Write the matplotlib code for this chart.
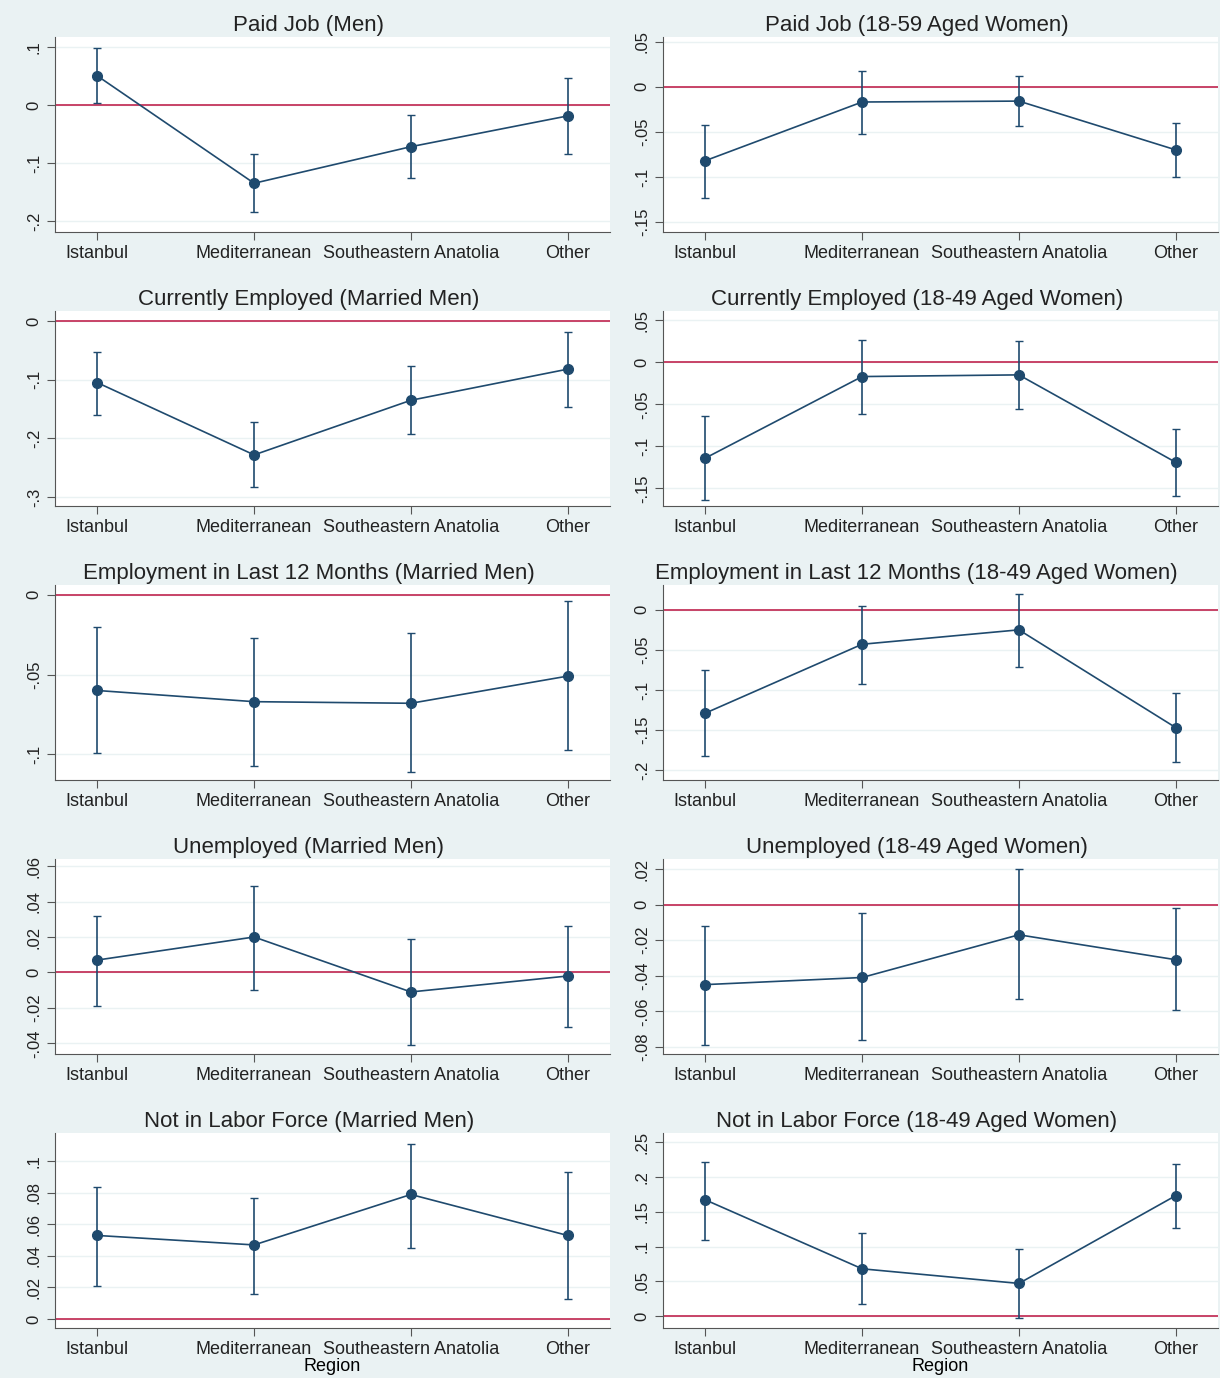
import matplotlib
matplotlib.use("Agg")
import matplotlib.pyplot as plt
import numpy as np

plt.rcParams['font.family'] = ['Liberation Sans', 'DejaVu Sans']

regions = ["Istanbul", "Mediterranean", "Southeastern Anatolia", "Other"]
titles = ["Paid Job (Men)", "Paid Job (18-59 Aged Women)",
          "Currently Employed (Married Men)", "Currently Employed (18-49 Aged Women)",
          "Employment in Last 12 Months (Married Men)", "Employment in Last 12 Months (18-49 Aged Women)",
          "Unemployed (Married Men)", "Unemployed (18-49 Aged Women)",
          "Not in Labor Force (Married Men)", "Not in Labor Force (18-49 Aged Women)"]
est = [[0.050, -0.135, -0.072, -0.019], [-0.082, -0.017, -0.016, -0.070],
       [-0.105, -0.228, -0.135, -0.082], [-0.114, -0.017, -0.015, -0.119],
       [-0.060, -0.067, -0.068, -0.051], [-0.129, -0.043, -0.025, -0.147],
       [0.007, 0.020, -0.011, -0.002], [-0.045, -0.041, -0.017, -0.031],
       [0.053, 0.047, 0.079, 0.053], [0.167, 0.068, 0.047, 0.173]]
lo = [[0.003, -0.185, -0.126, -0.085], [-0.123, -0.052, -0.044, -0.100],
      [-0.160, -0.283, -0.193, -0.147], [-0.164, -0.061, -0.056, -0.159],
      [-0.099, -0.107, -0.111, -0.097], [-0.183, -0.092, -0.072, -0.190],
      [-0.019, -0.010, -0.041, -0.031], [-0.079, -0.076, -0.053, -0.059],
      [0.021, 0.016, 0.045, 0.013], [0.110, 0.017, -0.003, 0.127]]
hi = [[0.098, -0.085, -0.018, 0.047], [-0.042, 0.017, 0.012, -0.040],
      [-0.052, -0.172, -0.077, -0.018], [-0.064, 0.027, 0.025, -0.079],
      [-0.020, -0.027, -0.024, -0.004], [-0.075, 0.005, 0.020, -0.104],
      [0.032, 0.049, 0.019, 0.026], [-0.012, -0.005, 0.020, -0.002],
      [0.084, 0.077, 0.111, 0.093], [0.222, 0.120, 0.097, 0.219]]
yticks = [[-0.2, -0.1, 0, 0.1], [-0.15, -0.1, -0.05, 0, 0.05],
          [-0.3, -0.2, -0.1, 0], [-0.15, -0.1, -0.05, 0, 0.05],
          [-0.1, -0.05, 0], [-0.2, -0.15, -0.1, -0.05, 0],
          [-0.04, -0.02, 0, 0.02, 0.04, 0.06], [-0.08, -0.06, -0.04, -0.02, 0, 0.02],
          [0, 0.02, 0.04, 0.06, 0.08, 0.1], [0, 0.05, 0.1, 0.15, 0.2, 0.25]]
ylims = [(-0.219, 0.117), (-0.161, 0.055), (-0.315, 0.017), (-0.171, 0.061),
         (-0.116, 0.006), (-0.2125, 0.031), (-0.046, 0.064), (-0.084, 0.0256),
         (-0.0057, 0.118), (-0.017, 0.263)]

def fmt(v):
    if abs(v) < 1e-12:
        return "0"
    s = ("%g" % v)
    return s.replace("0.", ".")

W, H = 1220, 1378
fig = plt.figure(figsize=(W/100, H/100), dpi=100, facecolor="#EAF2F3")
navy = "#1f4a6e"; red = "#c0254f"
x = np.arange(4)
for i in range(10):
    r, c = divmod(i, 2)
    left = 55 if c == 0 else 663
    top = 37 + r*274
    ax = fig.add_axes([left/W, 1-(top+195)/H, 555/W, 195/H])
    ax.set_facecolor("white")
    for s in ["top", "right"]:
        ax.spines[s].set_visible(False)
    ax.spines["left"].set_color("#555"); ax.spines["bottom"].set_color("#555")
    ax.set_xlim(-0.27, 3.27); ax.set_ylim(*ylims[i])
    ax.set_yticks(yticks[i])
    ax.set_yticklabels([fmt(v) for v in yticks[i]], rotation=90, va="center", fontsize=12)
    ax.set_xticks(x); ax.set_xticklabels(regions, fontsize=13)
    ax.tick_params(axis="both", colors="#555", labelcolor="#222", length=6)
    ax.grid(axis="y", color="#EAF2F3", lw=1)
    ax.axhline(0, color=red, lw=1.2, zorder=2)
    e = np.array(est[i]); l = np.array(lo[i]); h = np.array(hi[i])
    ax.errorbar(x, e, yerr=[e-l, h-e], fmt="o-", color=navy, ms=7, lw=1.2,
                capsize=3, elinewidth=1.2, zorder=3)
    ax.set_title(titles[i], fontsize=16, color="#222", pad=4, x=0.457)
    if r == 4:
        ax.set_xlabel("Region", fontsize=13, labelpad=0)
fig.savefig("out.png", dpi=100, facecolor=fig.get_facecolor())
